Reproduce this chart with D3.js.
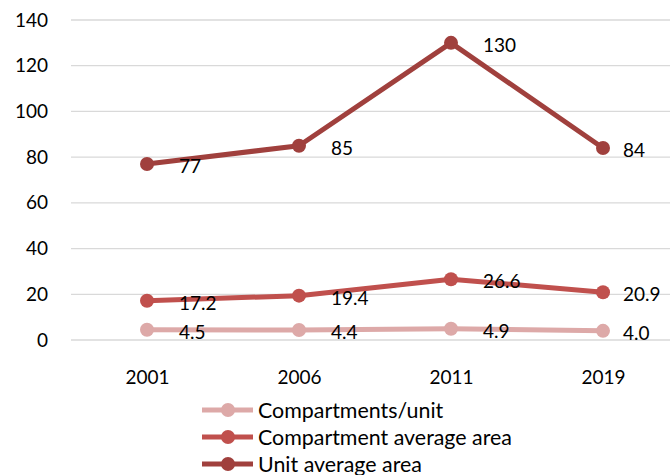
<!DOCTYPE html>
<html>
<head>
<meta charset="utf-8">
<script src="https://cdn.jsdelivr.net/npm/d3@7"></script>
<style>
  body { margin: 0; background: #fff; }
  svg { display: block; font-family: Lato, "Liberation Sans", sans-serif; }
</style>
</head>
<body>
<svg id="chart" width="670" height="475"></svg>
<script>
// data
var years = ['2001', '2006', '2011', '2019'];
var seriesNames = ['Compartments/unit', 'Compartment average area', 'Unit average area'];
var compartmentsPerUnit = [4.5, 4.4, 4.9, 4.0];
var compartmentArea = [17.2, 19.4, 26.6, 20.9];
var unitArea = [77, 85, 130, 84];
var labelText = [
  ['4.5', '4.4', '4.9', '4.0'],
  ['17.2', '19.4', '26.6', '20.9'],
  ['77', '85', '130', '84']
];
var yTicks = [0, 20, 40, 60, 80, 100, 120, 140];
var colors = ['#DDA9A8', '#C0504D', '#A0403D'];

var svg = d3.select('#chart');

var x = d3.scalePoint()
  .domain(years)
  .range([71, 679])
  .padding(0.5);

var y = d3.scaleLinear()
  .domain([0, 140])
  .range([340, 20]);

// gridlines
svg.append('g')
  .selectAll('line')
  .data(yTicks)
  .enter()
  .append('line')
  .attr('x1', 71)
  .attr('x2', 670)
  .attr('y1', function(d){ return y(d) })
  .attr('y2', function(d){ return y(d) })
  .attr('stroke', '#d9d9d9')
  .attr('stroke-width', 1.3);

// y axis labels
var yAxis = svg.append('g')
  .attr('transform', 'translate(48,0)')
  .call(d3.axisLeft(y).tickValues(yTicks).tickSize(0).tickPadding(0));
yAxis.select('.domain').remove();
yAxis.selectAll('text')
  .attr('font-family', 'Lato, "Liberation Sans", sans-serif')
  .attr('font-size', 19)
  .attr('fill', '#000');

// x axis labels
var xAxis = svg.append('g')
  .attr('transform', 'translate(0,370)')
  .call(d3.axisBottom(x).tickSize(0).tickPadding(0));
xAxis.select('.domain').remove();
xAxis.selectAll('text')
  .attr('font-family', 'Lato, "Liberation Sans", sans-serif')
  .attr('font-size', 19)
  .attr('fill', '#000');

var series = [compartmentsPerUnit, compartmentArea, unitArea].map(function(vals, i){
  return { name: seriesNames[i], color: colors[i], labels: labelText[i],
    values: vals.map(function(v, j){ return { year: years[j], value: v, idx: j } }) };
});

var line = d3.line()
  .x(function(d){ return x(d.year) })
  .y(function(d){ return y(d.value) });

var g = svg.selectAll('.series')
  .data(series)
  .enter()
  .append('g')
  .attr('class', 'series');

g.append('path')
  .attr('d', function(d){ return line(d.values) })
  .attr('fill', 'none')
  .attr('stroke', function(d){ return d.color })
  .attr('stroke-width', 5)
  .attr('stroke-linejoin', 'round');

g.selectAll('circle')
  .data(function(d){ return d.values.map(function(v){ return { v: v, c: d.color } }) })
  .enter()
  .append('circle')
  .attr('cx', function(d){ return x(d.v.year) })
  .attr('cy', function(d){ return y(d.v.value) })
  .attr('r', 7)
  .attr('fill', function(d){ return d.c });

// last column labels sit closer to the point so they stay inside the picture
g.selectAll('.lbl')
  .data(function(d){ return d.values.map(function(v, j){ return { v: v, t: d.labels[j] } }) })
  .enter()
  .append('text')
  .attr('class', 'lbl')
  .attr('x', function(d){ return x(d.v.year) + (d.v.idx === years.length - 1 ? 20 : 32) })
  .attr('y', function(d){ return y(d.v.value) + 9 })
  .attr('font-size', 19)
  .attr('fill', '#000')
  .text(function(d){ return d.t });

// legend
var legend = svg.append('g')
  .selectAll('g')
  .data(series)
  .enter()
  .append('g')
  .attr('transform', function(d, i){ return 'translate(202,' + (410 + i * 27) + ')' });

legend.append('line')
  .attr('x1', 0).attr('x2', 51)
  .attr('stroke', function(d){ return d.color })
  .attr('stroke-width', 5);
legend.append('circle')
  .attr('cx', 26).attr('r', 7)
  .attr('fill', function(d){ return d.color });
legend.append('text')
  .attr('x', 56)
  .attr('y', 7.5)
  .attr('font-size', 21.4)
  .attr('fill', '#000')
  .text(function(d){ return d.name });
</script>
</body>
</html>
